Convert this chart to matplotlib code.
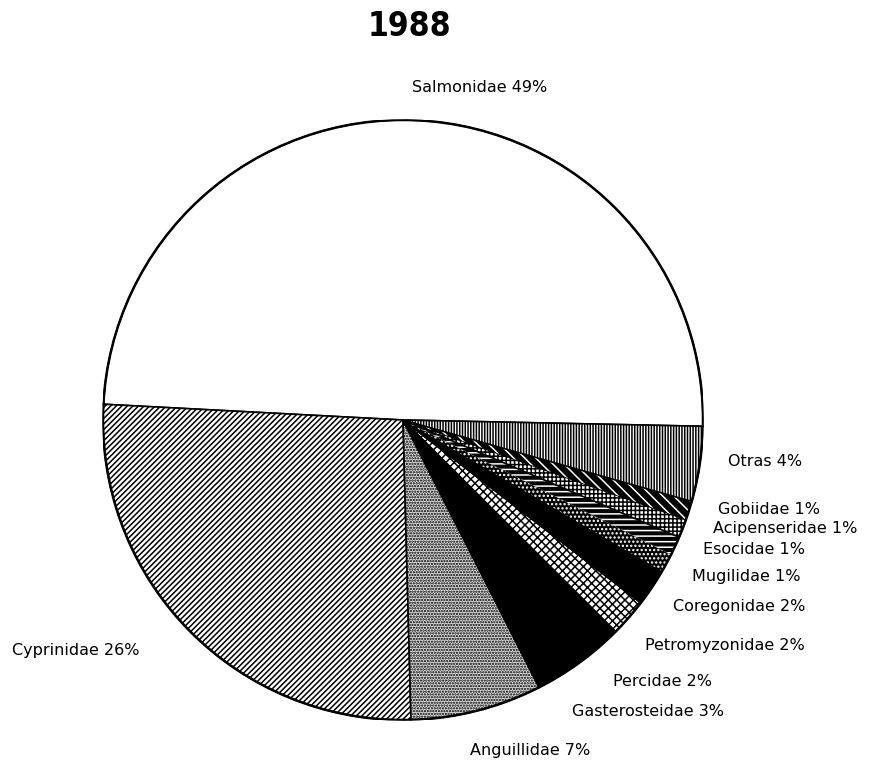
import numpy as np
import matplotlib
matplotlib.use('Agg')
import matplotlib.pyplot as plt
from matplotlib.patches import Circle

# catch share per family, 1988 (percent)
families = ['Salmonidae', 'Cyprinidae', 'Anguillidae', 'Gasterosteidae', 'Percidae',
            'Petromyzonidae', 'Coregonidae', 'Mugilidae', 'Esocidae', 'Acipenseridae',
            'Gobiidae', 'Otras']
shares = [49, 26, 7, 3, 2, 2, 2, 1, 1, 1, 1, 4]
title = '1988'

# fill style per wedge: (face, hatch, hatch colour)
styles = [('white', '', 'black'),
          ('white', '//////', 'black'),
          ('#d8d8d8', '......', 'black'),
          ('black', '', 'black'),
          ('black', '', 'black'),
          ('white', 'xxxx', 'black'),
          ('black', '', 'black'),
          ('black', '....', 'white'),
          ('black', '---', 'white'),
          ('white', '++++', 'black'),
          ('black', '\\\\\\', 'white'),
          ('white', '||||||', 'black')]

# label anchors (axes data units, pie radius = 1) and alignment
label_pos = [(0.257, 1.107, 'center'), (-1.303, -0.77, 'left'), (0.223, -1.103, 'left'),
             (0.563, -0.973, 'left'), (0.70, -0.873, 'left'), (0.807, -0.753, 'left'),
             (0.90, -0.623, 'left'), (0.963, -0.52, 'left'), (1.0, -0.43, 'left'),
             (1.033, -0.363, 'left'), (1.05, -0.297, 'left'), (1.083, -0.137, 'left')]

plt.rcParams['hatch.linewidth'] = 1.1

fig = plt.figure(figsize=(8.82, 7.61), dpi=100)
ax = fig.add_axes([103/882, 41/761, 600/882, 600/761])

wedges, _ = ax.pie(shares, startangle=-1.2, counterclock=True, radius=1,
                   wedgeprops=dict(linewidth=1.2))
for w, (face, hatch, hcol) in zip(wedges, styles):
    w.set_facecolor(face)
    w.set_edgecolor(hcol)
    w.set_hatch(hatch)
    if hcol == 'white':
        w.set_linewidth(0)

ax.add_patch(Circle((0, 0), 1, fill=False, edgecolor='black', linewidth=1.8))
ax.set_xlim(-1, 1)
ax.set_ylim(-1, 1)
ax.set_aspect('equal')
ax.axis('off')

for name, val, (x, y, ha) in zip(families, shares, label_pos):
    ax.text(x, y, f'{name} {val}%', ha=ha, va='center', fontsize=11.5,
            family='DejaVu Sans', clip_on=False)

fig.text(409/882, 1 - 27/761, title, ha='center', va='center', fontsize=24,
         fontweight='bold', fontstretch='condensed', family='DejaVu Sans')

fig.savefig('out.png', dpi=100, facecolor='white')
